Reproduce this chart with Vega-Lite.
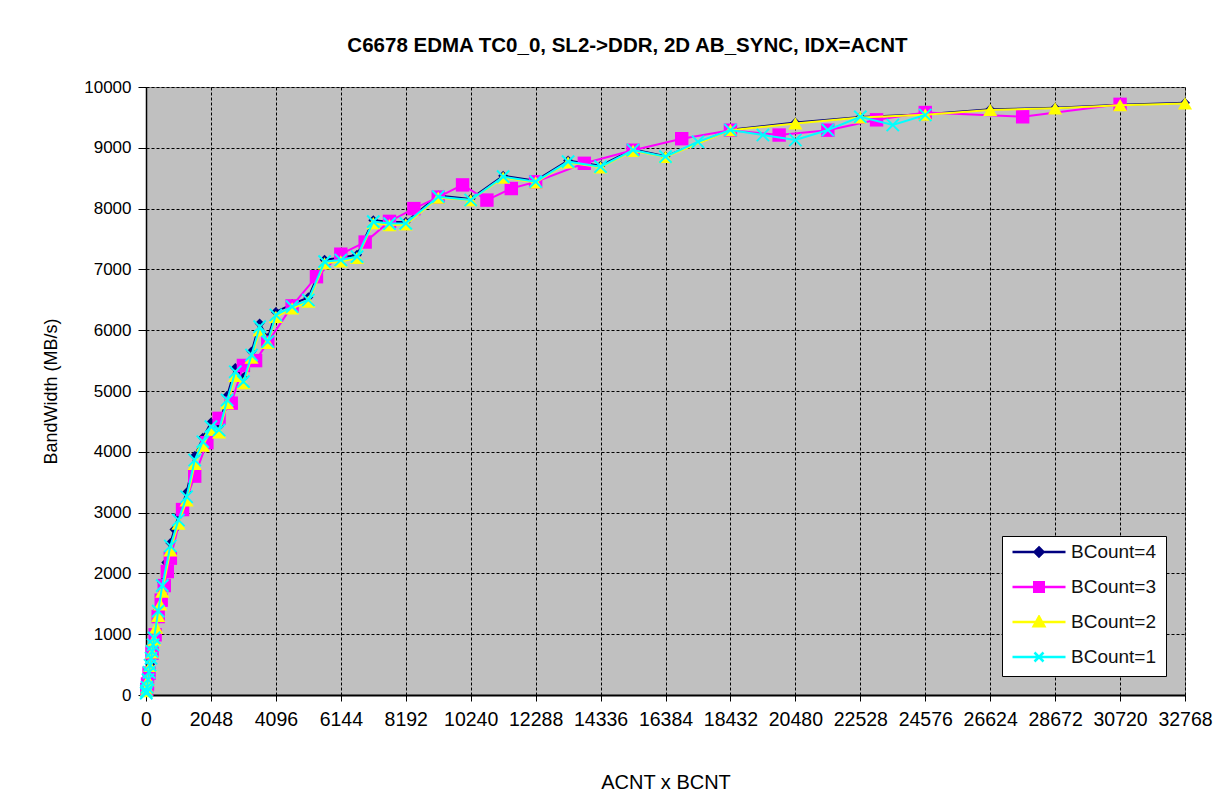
{
"$schema": "https://vega.github.io/schema/vega-lite/v6.json",
"width": 1039, "height": 608,
"autosize": {"type": "none"},
"padding": {"left": 146, "top": 87, "right": 37, "bottom": 115},
"background": "white",
"title": {"text": "C6678 EDMA TC0_0, SL2->DDR, 2D AB_SYNC, IDX=ACNT", "font": "Liberation Sans", "fontSize": 20.5, "fontWeight": "bold", "color": "black", "anchor": "middle", "frame": "bounds", "offset": 22},
"config": {
  "view": {"fill": "#C0C0C0", "stroke": "#808080", "strokeWidth": 1},
  "axis": {"domainColor": "black", "tickColor": "black", "labelColor": "black", "titleColor": "black", "gridColor": "black", "gridDash": [3, 2], "gridOpacity": 1, "gridWidth": 1, "labelFont": "Liberation Sans", "titleFont": "Liberation Sans", "labelFontSize": 17, "titleFontSize": 17, "titleFontWeight": "normal"}
},
"data": {"values": [
{"s":"BCount=4","x":32,"y":132},{"s":"BCount=4","x":64,"y":260},{"s":"BCount=4","x":128,"y":505},{"s":"BCount=4","x":256,"y":965},{"s":"BCount=4","x":384,"y":1400},{"s":"BCount=4","x":512,"y":1850},{"s":"BCount=4","x":640,"y":2180},{"s":"BCount=4","x":768,"y":2500},{"s":"BCount=4","x":896,"y":2720},{"s":"BCount=4","x":1024,"y":2950},{"s":"BCount=4","x":1280,"y":3330},{"s":"BCount=4","x":1536,"y":3930},{"s":"BCount=4","x":1792,"y":4230},{"s":"BCount=4","x":2048,"y":4480},{"s":"BCount=4","x":2304,"y":4420},{"s":"BCount=4","x":2560,"y":4920},{"s":"BCount=4","x":2816,"y":5380},{"s":"BCount=4","x":3072,"y":5220},{"s":"BCount=4","x":3328,"y":5650},{"s":"BCount=4","x":3584,"y":6110},{"s":"BCount=4","x":3840,"y":5870},{"s":"BCount=4","x":4096,"y":6300},{"s":"BCount=4","x":4608,"y":6430},{"s":"BCount=4","x":5120,"y":6540},{"s":"BCount=4","x":5632,"y":7160},{"s":"BCount=4","x":6144,"y":7190},{"s":"BCount=4","x":6656,"y":7240},{"s":"BCount=4","x":7168,"y":7810},{"s":"BCount=4","x":7680,"y":7780},{"s":"BCount=4","x":8192,"y":7780},{"s":"BCount=4","x":9216,"y":8215},{"s":"BCount=4","x":10240,"y":8160},{"s":"BCount=4","x":11264,"y":8540},{"s":"BCount=4","x":12288,"y":8460},{"s":"BCount=4","x":13312,"y":8790},{"s":"BCount=4","x":14336,"y":8705},{"s":"BCount=4","x":15360,"y":8975},{"s":"BCount=4","x":16384,"y":8860},{"s":"BCount=4","x":18432,"y":9298},{"s":"BCount=4","x":20480,"y":9415},{"s":"BCount=4","x":22528,"y":9508},{"s":"BCount=4","x":24576,"y":9552},{"s":"BCount=4","x":26624,"y":9632},{"s":"BCount=4","x":28672,"y":9660},{"s":"BCount=4","x":30720,"y":9708},{"s":"BCount=4","x":32768,"y":9740},
{"s":"BCount=3","x":24,"y":92},{"s":"BCount=3","x":48,"y":182},{"s":"BCount=3","x":96,"y":358},{"s":"BCount=3","x":192,"y":688},{"s":"BCount=3","x":288,"y":990},{"s":"BCount=3","x":384,"y":1290},{"s":"BCount=3","x":480,"y":1560},{"s":"BCount=3","x":576,"y":1800},{"s":"BCount=3","x":672,"y":2030},{"s":"BCount=3","x":768,"y":2250},{"s":"BCount=3","x":1152,"y":3050},{"s":"BCount=3","x":1536,"y":3600},{"s":"BCount=3","x":1920,"y":4150},{"s":"BCount=3","x":2304,"y":4550},{"s":"BCount=3","x":2688,"y":4800},{"s":"BCount=3","x":3072,"y":5420},{"s":"BCount=3","x":3456,"y":5500},{"s":"BCount=3","x":3840,"y":5800},{"s":"BCount=3","x":4608,"y":6400},{"s":"BCount=3","x":5376,"y":6880},{"s":"BCount=3","x":6144,"y":7250},{"s":"BCount=3","x":6912,"y":7450},{"s":"BCount=3","x":7680,"y":7790},{"s":"BCount=3","x":8448,"y":8000},{"s":"BCount=3","x":9216,"y":8190},{"s":"BCount=3","x":9984,"y":8390},{"s":"BCount=3","x":10752,"y":8140},{"s":"BCount=3","x":11520,"y":8330},{"s":"BCount=3","x":12288,"y":8440},{"s":"BCount=3","x":13824,"y":8745},{"s":"BCount=3","x":15360,"y":8960},{"s":"BCount=3","x":16896,"y":9150},{"s":"BCount=3","x":18432,"y":9290},{"s":"BCount=3","x":19968,"y":9210},{"s":"BCount=3","x":21504,"y":9290},{"s":"BCount=3","x":23040,"y":9460},{"s":"BCount=3","x":24576,"y":9580},{"s":"BCount=3","x":27648,"y":9510},{"s":"BCount=3","x":30720,"y":9715},
{"s":"BCount=2","x":16,"y":62},{"s":"BCount=2","x":32,"y":124},{"s":"BCount=2","x":64,"y":245},{"s":"BCount=2","x":128,"y":478},{"s":"BCount=2","x":192,"y":700},{"s":"BCount=2","x":256,"y":910},{"s":"BCount=2","x":320,"y":1110},{"s":"BCount=2","x":384,"y":1300},{"s":"BCount=2","x":448,"y":1490},{"s":"BCount=2","x":512,"y":1700},{"s":"BCount=2","x":768,"y":2380},{"s":"BCount=2","x":1024,"y":2820},{"s":"BCount=2","x":1280,"y":3200},{"s":"BCount=2","x":1536,"y":3800},{"s":"BCount=2","x":1792,"y":4100},{"s":"BCount=2","x":2048,"y":4360},{"s":"BCount=2","x":2304,"y":4320},{"s":"BCount=2","x":2560,"y":4800},{"s":"BCount=2","x":2816,"y":5250},{"s":"BCount=2","x":3072,"y":5130},{"s":"BCount=2","x":3328,"y":5550},{"s":"BCount=2","x":3584,"y":6000},{"s":"BCount=2","x":3840,"y":5790},{"s":"BCount=2","x":4096,"y":6220},{"s":"BCount=2","x":4608,"y":6360},{"s":"BCount=2","x":5120,"y":6470},{"s":"BCount=2","x":5632,"y":7100},{"s":"BCount=2","x":6144,"y":7130},{"s":"BCount=2","x":6656,"y":7190},{"s":"BCount=2","x":7168,"y":7760},{"s":"BCount=2","x":7680,"y":7730},{"s":"BCount=2","x":8192,"y":7740},{"s":"BCount=2","x":9216,"y":8180},{"s":"BCount=2","x":10240,"y":8140},{"s":"BCount=2","x":11264,"y":8510},{"s":"BCount=2","x":12288,"y":8430},{"s":"BCount=2","x":13312,"y":8760},{"s":"BCount=2","x":14336,"y":8680},{"s":"BCount=2","x":15360,"y":8950},{"s":"BCount=2","x":16384,"y":8850},{"s":"BCount=2","x":18432,"y":9290},{"s":"BCount=2","x":20480,"y":9400},{"s":"BCount=2","x":22528,"y":9500},{"s":"BCount=2","x":24576,"y":9545},{"s":"BCount=2","x":26624,"y":9622},{"s":"BCount=2","x":28672,"y":9650},{"s":"BCount=2","x":30720,"y":9700},{"s":"BCount=2","x":32768,"y":9730},
{"s":"BCount=1","x":8,"y":32},{"s":"BCount=1","x":16,"y":64},{"s":"BCount=1","x":32,"y":128},{"s":"BCount=1","x":64,"y":252},{"s":"BCount=1","x":96,"y":373},{"s":"BCount=1","x":128,"y":490},{"s":"BCount=1","x":160,"y":605},{"s":"BCount=1","x":192,"y":717},{"s":"BCount=1","x":224,"y":826},{"s":"BCount=1","x":256,"y":940},{"s":"BCount=1","x":384,"y":1380},{"s":"BCount=1","x":512,"y":1800},{"s":"BCount=1","x":768,"y":2450},{"s":"BCount=1","x":1024,"y":2878},{"s":"BCount=1","x":1280,"y":3261},{"s":"BCount=1","x":1536,"y":3865},{"s":"BCount=1","x":1792,"y":4166},{"s":"BCount=1","x":2048,"y":4413},{"s":"BCount=1","x":2304,"y":4358},{"s":"BCount=1","x":2560,"y":4852},{"s":"BCount=1","x":2816,"y":5317},{"s":"BCount=1","x":3072,"y":5153},{"s":"BCount=1","x":3328,"y":5592},{"s":"BCount=1","x":3584,"y":6058},{"s":"BCount=1","x":3840,"y":5811},{"s":"BCount=1","x":4096,"y":6250},{"s":"BCount=1","x":4608,"y":6387},{"s":"BCount=1","x":5120,"y":6497},{"s":"BCount=1","x":5632,"y":7127},{"s":"BCount=1","x":6144,"y":7155},{"s":"BCount=1","x":6656,"y":7209},{"s":"BCount=1","x":7168,"y":7785},{"s":"BCount=1","x":7680,"y":7754},{"s":"BCount=1","x":8192,"y":7758},{"s":"BCount=1","x":9216,"y":8196},{"s":"BCount=1","x":10240,"y":8141},{"s":"BCount=1","x":11264,"y":8525},{"s":"BCount=1","x":12288,"y":8443},{"s":"BCount=1","x":13312,"y":8772},{"s":"BCount=1","x":14336,"y":8690},{"s":"BCount=1","x":15360,"y":8964},{"s":"BCount=1","x":16384,"y":8854},{"s":"BCount=1","x":17408,"y":9100},{"s":"BCount=1","x":18432,"y":9293},{"s":"BCount=1","x":19456,"y":9211},{"s":"BCount=1","x":20480,"y":9128},{"s":"BCount=1","x":21504,"y":9293},{"s":"BCount=1","x":22528,"y":9510},{"s":"BCount=1","x":23552,"y":9375},{"s":"BCount=1","x":24576,"y":9540}
]},
"encoding": {
  "x": {"field": "x", "type": "quantitative", "title": "ACNT x BCNT",
        "scale": {"domain": [0, 32768], "nice": false, "zero": true},
        "axis": {"values": [0,2048,4096,6144,8192,10240,12288,14336,16384,18432,20480,22528,24576,26624,28672,30720,32768], "format": "d", "grid": true, "tickSize": 6, "labelPadding": 9, "labelFontSize": 19.5, "titleFontSize": 20, "titlePadding": 44, "domainWidth": 2, "labelFlush": false, "labelOverlap": false}},
  "y": {"field": "y", "type": "quantitative", "title": "BandWidth (MB/s)",
        "scale": {"domain": [0, 10000], "nice": false},
        "axis": {"values": [0,1000,2000,3000,4000,5000,6000,7000,8000,9000,10000], "format": "d", "grid": true, "tickSize": 8, "labelPadding": 7, "titleFontSize": 18, "titlePadding": 23, "domainWidth": 1.5, "labelFlush": false, "labelOverlap": false}},
  "color": {"field": "s", "type": "nominal",
        "scale": {"domain": ["BCount=4", "BCount=3", "BCount=2", "BCount=1"], "range": ["#000080", "#FF00FF", "#FFFF00", "#00FFFF"]},
        "legend": {"title": null, "orient": "bottom-right", "offset": 19, "fillColor": "white", "strokeColor": "black", "padding": 9, "symbolSize": 2809, "clipHeight": 14, "rowPadding": 16, "labelOffset": 4, "labelFont": "Liberation Sans", "labelFontSize": 19, "labelColor": "#111111",
          "encode": {"symbols": {"update": {
            "shape": {"signal": "datum.value === 'BCount=4' ? 'M-1,0H1M0,-0.17L0.17,0L0,0.17L-0.17,0Z' : datum.value === 'BCount=3' ? 'M-1,0H1M-0.18,-0.18H0.18V0.18H-0.18Z' : datum.value === 'BCount=2' ? 'M-1,0H1M0,-0.2L0.2,0.16H-0.2Z' : 'M-1,0H1M-0.17,-0.17L0.17,0.17M-0.17,0.17L0.17,-0.17'"},
            "fill": {"signal": "datum.value === 'BCount=1' ? 'transparent' : scale('color', datum.value)"},
            "stroke": {"signal": "scale('color', datum.value)"},
            "strokeWidth": {"value": 2.5},
            "opacity": {"value": 1}, "fillOpacity": {"value": 1}, "strokeOpacity": {"value": 1}
          }}}}}
},
"layer": [
  {"transform": [{"filter": "datum.s === 'BCount=4'"}], "mark": {"type": "line", "strokeWidth": 2}},
  {"transform": [{"filter": "datum.s === 'BCount=4'"}], "mark": {"type": "point", "filled": true, "shape": "diamond", "size": 100, "opacity": 1}},
  {"transform": [{"filter": "datum.s === 'BCount=3'"}], "mark": {"type": "line", "strokeWidth": 2}},
  {"transform": [{"filter": "datum.s === 'BCount=3'"}], "mark": {"type": "point", "filled": true, "shape": "square", "size": 180, "opacity": 1}},
  {"transform": [{"filter": "datum.s === 'BCount=2'"}], "mark": {"type": "line", "strokeWidth": 2}},
  {"transform": [{"filter": "datum.s === 'BCount=2'"}], "mark": {"type": "point", "filled": true, "shape": "triangle-up", "size": 200, "opacity": 1}},
  {"transform": [{"filter": "datum.s === 'BCount=1'"}], "mark": {"type": "line", "strokeWidth": 2}},
  {"transform": [{"filter": "datum.s === 'BCount=1'"}], "mark": {"type": "point", "filled": false, "shape": "M-1,-1L1,1M-1,1L1,-1", "size": 150, "strokeWidth": 2, "opacity": 1}}
]
}
